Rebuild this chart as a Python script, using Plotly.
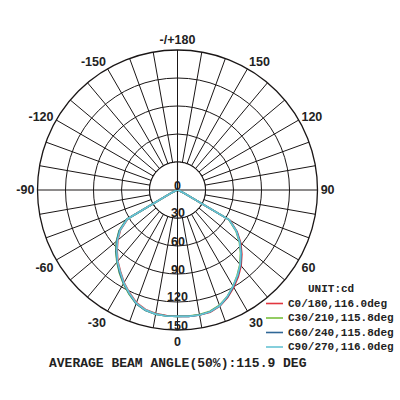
import plotly.graph_objects as go

# ---- data ----
gamma = list(range(-90, 95, 5))  # vertical angle, deg

c0_180 = [0, 0, 0, 0, 2, 8, 61.5, 74.5, 83.5, 91.5, 99.5, 106.5, 114.5, 121.5, 128.5, 132.5, 134.5, 135, 135.5,
          136, 136, 135.5, 132.5, 127, 120.5, 113.5, 106, 97.5, 88.5, 78, 65, 8, 2, 0, 0, 0, 0]
c30_210 = [0, 0, 0, 0, 2, 8, 63, 76.5, 85.5, 93.5, 101, 108.5, 116, 123, 129.5, 133.5, 135, 135.5, 135.5,
           135.5, 135.5, 134.5, 131.5, 126, 119, 111.5, 104, 95.5, 86.5, 76.5, 63.5, 8, 2, 0, 0, 0, 0]
c60_240 = [0, 0, 0, 0, 2, 8, 62.5, 76, 85, 93, 100.5, 108, 115.5, 122.5, 129.5, 133.5, 135, 135.5, 135.5,
           136, 136, 135, 132, 126.5, 119.5, 112.5, 105, 96.5, 87.5, 77.5, 64, 8, 2, 0, 0, 0, 0]
c90_270 = [0, 0, 0, 0, 2, 8, 62, 75, 84, 92, 100, 107, 115, 122, 129, 133, 135, 135.5, 135.5,
           136, 136, 135, 132, 126, 119, 112, 104.5, 96, 87, 77, 64, 8, 2, 0, 0, 0, 0]

series_names = ["C0/180", "C30/210", "C60/240", "C90/270"]
series_values = [c0_180, c30_210, c60_240, c90_270]
beam_angles = [116.0, 115.8, 115.8, 116.0]
series_colors = ["#e2363f", "#78bf3c", "#2f6796", "#66c3d3"]

radial_ticks = [0, 30, 60, 90, 120, 150]
angular_grid = list(range(0, 360, 10))
angular_labels = {0: "0", 30: "30", 60: "60", 90: "90", 120: "120", 150: "150",
                  180: "-/+180", 210: "-150", 240: "-120", 270: "-90", 300: "-60", 330: "-30"}
unit_label = "UNIT:cd"

GRID = "#1a1616"
TXT = "#222222"
SANS = "Liberation Sans"

dom_x = [37.3 / 400, 317.7 / 400]
dom_y = [1 - 330 / 400, 1 - 50 / 400]
r_max = radial_ticks[-1]

fig = go.Figure()

# inner white disc (spokes start at first ring)
disc_theta = list(range(0, 361, 2))
fig.add_trace(go.Scatterpolar(theta=disc_theta, r=[radial_ticks[1]] * len(disc_theta),
                              mode="lines", fill="toself", fillcolor="white",
                              line=dict(color=GRID, width=1.1), hoverinfo="skip", showlegend=False))
# main cross lines through centre
for a in (0, 90):
    fig.add_trace(go.Scatterpolar(theta=[a, a + 180], r=[radial_ticks[1], radial_ticks[1]],
                                  mode="lines", line=dict(color=GRID, width=1.1),
                                  hoverinfo="skip", showlegend=False))

for name, vals, col in zip(series_names, series_values, series_colors):
    fig.add_trace(go.Scatterpolar(theta=gamma, r=vals, mode="lines", name=name,
                                  line=dict(color=col, width=1.7), showlegend=False))

fig.update_layout(
    width=400, height=400, autosize=False,
    margin=dict(l=0, r=0, t=0, b=0),
    paper_bgcolor="white", plot_bgcolor="white",
    polar=dict(
        domain=dict(x=dom_x, y=dom_y),
        bgcolor="white",
        radialaxis=dict(range=[0, r_max], tickvals=radial_ticks[1:], showticklabels=False,
                        showgrid=True, gridcolor=GRID, gridwidth=1.1, showline=False, ticks=""),
        angularaxis=dict(rotation=270, direction="counterclockwise",
                         tickvals=angular_grid,
                         ticktext=[angular_labels.get(a, "") for a in angular_grid],
                         showgrid=True, gridcolor=GRID, gridwidth=1.1,
                         showline=True, linecolor=GRID, linewidth=1.3, ticks="",
                         tickfont=dict(family=SANS, size=12.5, color=TXT, weight="bold")),
    ),
)

# radial tick labels along the 0 deg direction (sitting just above each ring)
cx = (dom_x[0] + dom_x[1]) / 2
cy = (dom_y[0] + dom_y[1]) / 2
ry = (dom_y[1] - dom_y[0]) / 2
for t in radial_ticks:
    fig.add_annotation(x=cx, y=cy - t / r_max * ry, xref="paper", yref="paper",
                       xanchor="center", yanchor="middle", yshift=4.5, showarrow=False,
                       text=str(t), font=dict(family=SANS, size=12.5, color=TXT, weight="bold"))

# legend (manual)
mono = "Liberation Mono"
fig.add_annotation(x=306 / 400, y=1 - 288.5 / 400, xref="paper", yref="paper", xanchor="left",
                   yanchor="middle", showarrow=False, text="<b>" + unit_label + "</b>",
                   font=dict(family=mono, size=11, color=TXT))
row_y = [303.5, 318, 332.5, 347]
for yy, name, ang, col in zip(row_y, series_names, beam_angles, series_colors):
    fig.add_shape(type="line", xref="paper", yref="paper", x0=266 / 400, x1=283 / 400,
                  y0=1 - yy / 400, y1=1 - yy / 400, line=dict(color=col, width=1.6))
    fig.add_annotation(x=286 / 400, y=1 - yy / 400, xref="paper", yref="paper", xanchor="left",
                       yanchor="middle", showarrow=False,
                       text="<b>%s,%.1fdeg</b>" % (name, ang),
                       font=dict(family=mono, size=11, color=TXT))

avg = sum(beam_angles) / len(beam_angles)
fig.add_annotation(x=177.5 / 400, y=1 - 363 / 400, xref="paper", yref="paper", xanchor="center",
                   yanchor="middle", showarrow=False,
                   text="<b>AVERAGE BEAM ANGLE(50%%):%.1f DEG</b>" % avg,
                   font=dict(family=mono, size=13, color=TXT))

fig.write_html("out.html", config={"displayModeBar": False},
               post_script="document.body.style.margin='0px';"
                           "document.documentElement.style.overflow='hidden';")
